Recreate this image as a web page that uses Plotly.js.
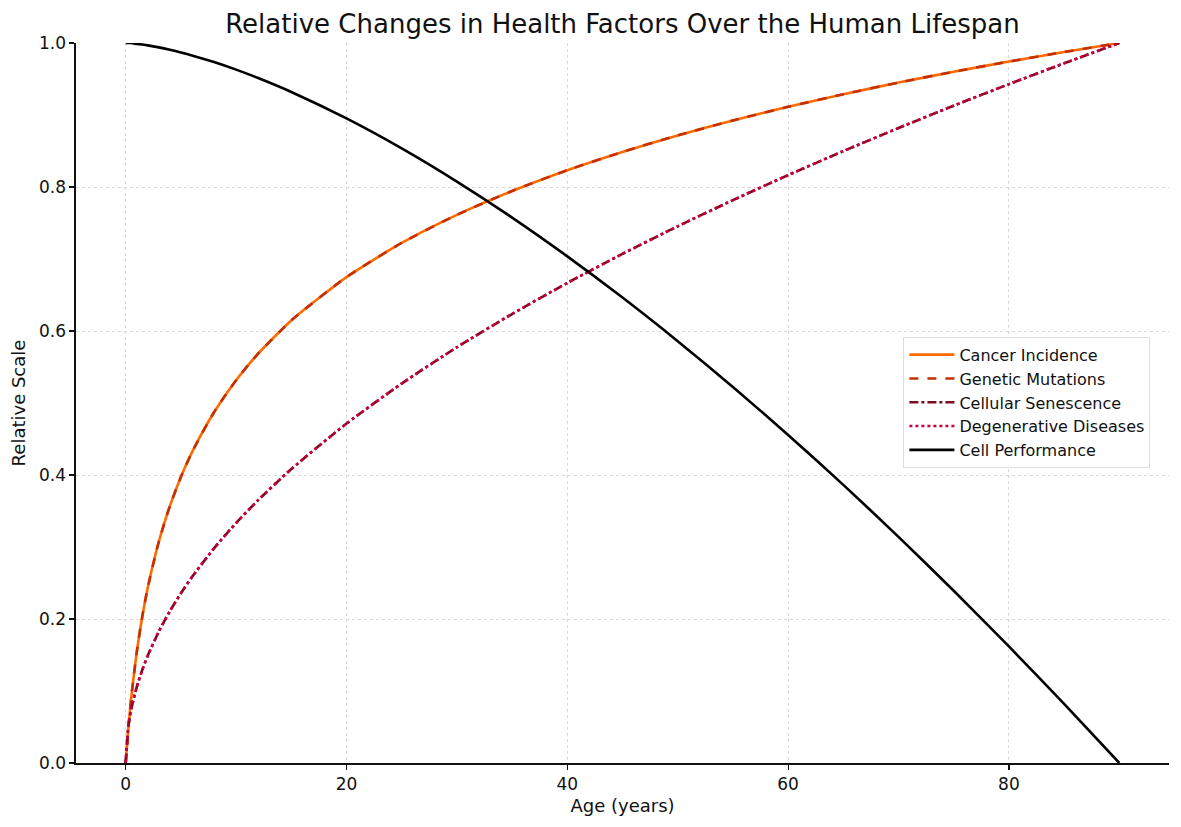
<!DOCTYPE html>
<html>
<head>
<meta charset="utf-8">
<script src="https://cdn.plot.ly/plotly-3.0.1.min.js"></script>
<style>html,body{margin:0;padding:0;background:#fff;}#chart{width:1181px;height:827px;}</style>
</head>
<body>
<div id="chart"></div>
<script>
const ages = [0, 0.25, 0.5, 1, 1.5, 2, 3, 4, 5, 6, 8, 10, 12, 15, 20, 25, 30, 35, 40, 45, 50, 55, 60, 65, 70, 75, 80, 85, 90];
const cancerIncidence = [0, 0.0495, 0.0899, 0.1537, 0.2031, 0.2435, 0.3073, 0.3568, 0.3972, 0.4314, 0.4871, 0.5316, 0.5686, 0.6146, 0.6749, 0.7223, 0.7613, 0.7944, 0.8233, 0.8487, 0.8716, 0.8924, 0.9113, 0.9288, 0.9450, 0.9601, 0.9742, 0.9875, 1.0];
const geneticMutations = [0, 0.0495, 0.0899, 0.1537, 0.2031, 0.2435, 0.3073, 0.3568, 0.3972, 0.4314, 0.4871, 0.5316, 0.5686, 0.6146, 0.6749, 0.7223, 0.7613, 0.7944, 0.8233, 0.8487, 0.8716, 0.8924, 0.9113, 0.9288, 0.9450, 0.9601, 0.9742, 0.9875, 1.0];
const cellularSenescence = [0, 0.0527, 0.0745, 0.1054, 0.1291, 0.1491, 0.1826, 0.2108, 0.2357, 0.2582, 0.2981, 0.3333, 0.3651, 0.4082, 0.4714, 0.5270, 0.5774, 0.6236, 0.6667, 0.7071, 0.7454, 0.7817, 0.8165, 0.8498, 0.8819, 0.9129, 0.9428, 0.9718, 1.0];
const degenerativeDiseases = [0, 0.0527, 0.0745, 0.1054, 0.1291, 0.1491, 0.1826, 0.2108, 0.2357, 0.2582, 0.2981, 0.3333, 0.3651, 0.4082, 0.4714, 0.5270, 0.5774, 0.6236, 0.6667, 0.7071, 0.7454, 0.7817, 0.8165, 0.8498, 0.8819, 0.9129, 0.9428, 0.9718, 1.0];
const cellPerformance = [1.0, 1.0, 0.9999, 0.9988, 0.9978, 0.9967, 0.9939, 0.9906, 0.9869, 0.9828, 0.9735, 0.9630, 0.9513, 0.9320, 0.8952, 0.8536, 0.8075, 0.7575, 0.7037, 0.6464, 0.5859, 0.5223, 0.4557, 0.3863, 0.3141, 0.2392, 0.1619, 0.0822, 0.0];
const seriesNames = ["Cancer Incidence", "Genetic Mutations", "Cellular Senescence", "Degenerative Diseases", "Cell Performance"];
const xTicks = [0, 20, 40, 60, 80];
const yTicks = [0.0, 0.2, 0.4, 0.6, 0.8, 1.0];

const font = "DejaVu Sans, sans-serif";
const mk = (y, i, color, dash) => ({x: ages, y: y, name: seriesNames[i], mode: "lines",
  line: {color: color, width: 2.6, dash: dash, shape: "spline", smoothing: 0.6}});
const traces = [
  mk(cancerIncidence, 0, "#ff6a00", "solid"),
  mk(geneticMutations, 1, "#c43000", "dash"),
  mk(cellularSenescence, 2, "#7a0a1e", "dashdot"),
  mk(degenerativeDiseases, 3, "#c8003c", "dot"),
  mk(cellPerformance, 4, "#000000", "solid")
];
const layout = {
  width: 1181, height: 827,
  margin: {l: 76, r: 12, t: 43, b: 64},
  paper_bgcolor: "#ffffff", plot_bgcolor: "#ffffff",
  font: {family: font, size: 18, color: "#111"},
  title: {text: "Relative Changes in Health Factors Over the Human Lifespan", x: 0.5, xref: "paper", y: 0.971, yanchor: "middle", font: {family: font, size: 26, color: "#111"}},
  xaxis: {
    range: [-4.5, 94.5], tickvals: xTicks, ticktext: xTicks.map(String),
    ticks: "outside", ticklen: 5, tickwidth: 1.2, tickcolor: "#111",
    showline: true, linecolor: "#111", linewidth: 1.6, mirror: false,
    showgrid: true, gridcolor: "#d9d9d9", griddash: "dot", gridwidth: 1, zeroline: false,
    tickfont: {family: font, size: 17, color: "#111"},
    title: {text: "Age (years)", font: {family: font, size: 18, color: "#111"}, standoff: 6}
  },
  yaxis: {
    range: [0, 1], tickvals: yTicks, ticktext: yTicks.map(v => v.toFixed(1)),
    ticks: "outside", ticklen: 5, tickwidth: 1.2, tickcolor: "#111",
    showline: true, linecolor: "#111", linewidth: 1.6, mirror: false,
    showgrid: true, gridcolor: "#d9d9d9", griddash: "dot", gridwidth: 1, zeroline: false,
    tickfont: {family: font, size: 17, color: "#111"},
    title: {text: "Relative Scale", font: {family: font, size: 18, color: "#111"}, standoff: 8}
  },
  legend: {
    x: 0.757, y: 0.592, xanchor: "left", yanchor: "top",
    bgcolor: "rgba(255,255,255,0.9)", bordercolor: "#dddddd", borderwidth: 1,
    font: {family: font, size: 16, color: "#111"}, itemwidth: 45
  },
  showlegend: true
};
Plotly.newPlot("chart", traces, layout, {displayModeBar: false, staticPlot: true});
</script>
</body>
</html>
